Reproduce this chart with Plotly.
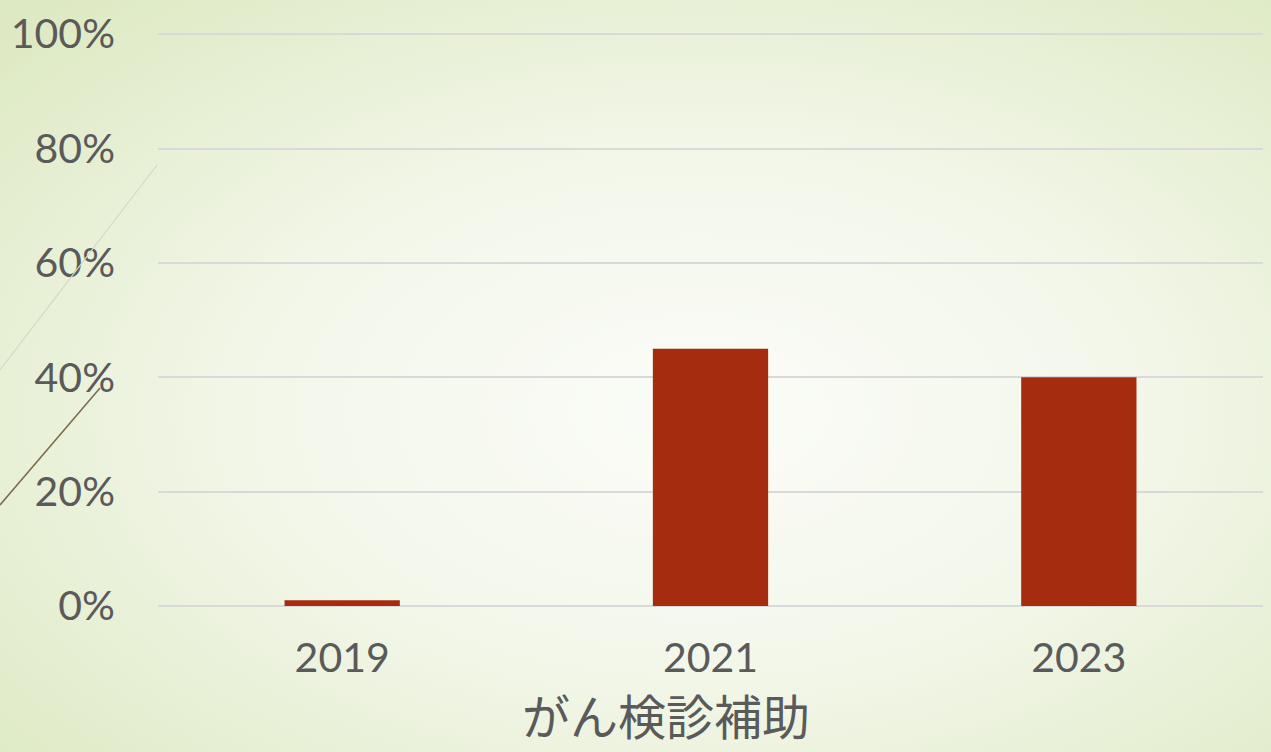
import base64
import plotly.graph_objects as go

categories = ["2019", "2021", "2023"]
values = [0.01, 0.45, 0.40]
y_ticks = [0, 0.2, 0.4, 0.6, 0.8, 1.0]
y_tick_labels = ["0%", "20%", "40%", "60%", "80%", "100%"]
x_title = "がん検診補助"

W, H = 1271, 752
L, R, T, B = 158, 8, 33, 146
pw, ph = W - L - R, H - T - B

svg = f'''<svg xmlns="http://www.w3.org/2000/svg" width="{W}" height="{H}" viewBox="0 0 {W} {H}">
<defs><radialGradient id="g" cx="0.55" cy="0.55" r="0.75" gradientUnits="objectBoundingBox">
<stop offset="0" stop-color="#fbfcf8"/><stop offset="0.45" stop-color="#f3f7ea"/>
<stop offset="1" stop-color="#dde9c2"/></radialGradient></defs>
<rect width="{W}" height="{H}" fill="url(#g)"/></svg>'''
bg = "data:image/svg+xml;base64," + base64.b64encode(svg.encode()).decode()

def px(x):
    return (x - L) / pw

def py(y):
    return (H - B - y) / ph

fig = go.Figure()
fig.add_trace(go.Bar(x=categories, y=values, marker_color="#A52C0E",
                     marker_line_width=0, width=0.313))

fig.add_layout_image(dict(source=bg, xref="paper", yref="paper", x=px(0), y=py(0),
                          sizex=W / pw, sizey=H / ph, xanchor="left", yanchor="top",
                          sizing="stretch", layer="below"))

# decorative theme lines
fig.add_shape(type="line", xref="paper", yref="paper", x0=px(0), y0=py(505),
              x1=px(100), y1=py(388), line=dict(color="#7a6a4a", width=1.5))
fig.add_shape(type="line", xref="paper", yref="paper", x0=px(0), y0=py(370),
              x1=px(157), y1=py(165), line=dict(color="#d3dac4", width=1.2))

fig.add_annotation(text=x_title, xref="paper", yref="paper", x=px(666), y=py(751),
                   showarrow=False, xanchor="center", yanchor="bottom",
                   font=dict(family="Noto Sans CJK JP", size=48, color="#5a5a5a"))

fig.update_layout(
    width=W, height=H, margin=dict(l=L, r=R, t=T, b=B),
    paper_bgcolor="rgba(0,0,0,0)", plot_bgcolor="rgba(0,0,0,0)",
    showlegend=False,
    font=dict(family="Lato", color="#5a5a5a", size=41),
    xaxis=dict(showgrid=False, showline=False, ticks="", ticklabelstandoff=24,
               tickfont=dict(size=41, color="#5a5a5a")),
    yaxis=dict(range=[0, 1.002], tickvals=y_ticks, ticktext=y_tick_labels,
               showgrid=True, gridcolor="#d9d9d9", gridwidth=1.5,
               zeroline=True, zerolinecolor="#d9d9d9", zerolinewidth=1.5,
               showline=False, ticks="", ticklabelstandoff=42,
               tickfont=dict(size=41, color="#5a5a5a")),
)
fig.write_html("out.html")
